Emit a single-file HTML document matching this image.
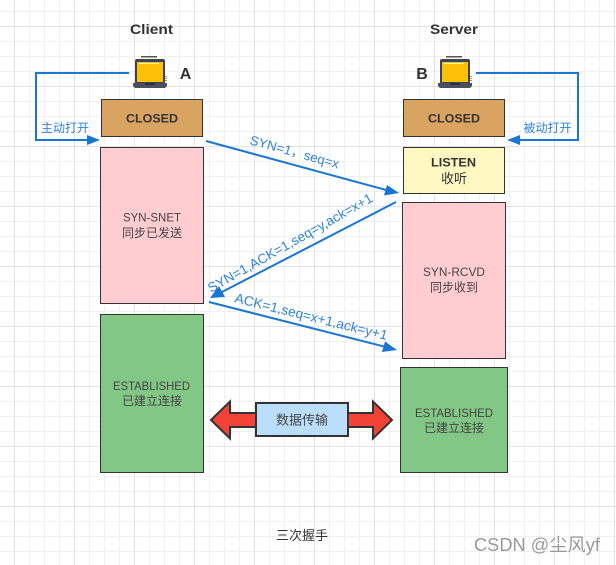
<!DOCTYPE html>
<html><head><meta charset="utf-8"><style>
html,body{margin:0;padding:0;background:#fff}
svg{display:block}
text{font-family:"Liberation Sans","Noto Sans CJK SC",sans-serif}
.d{fill:#333}
.b{fill:#1976d2;fill-opacity:.9}
</style></head><body>
<svg width="616" height="565" viewBox="0 0 616 565" xmlns="http://www.w3.org/2000/svg">
<defs>
<pattern id="g" width="60" height="60" patternUnits="userSpaceOnUse" x="14" y="26">
<path d="M15 0V60M30 0V60M45 0V60M0 15H60M0 30H60M0 45H60" stroke="#f0f0f0" stroke-width="1" fill="none" transform="translate(.5 .5)"/>
<path d="M0 0V60M0 0H60" stroke="#e2e2e2" stroke-width="1" fill="none" transform="translate(.5 .5)"/>
</pattern>
<g id="lap">
<rect x="8" y="0" width="16" height="1.500" fill="#555"/>
<rect x="2" y="3" width="30" height="25" rx="2" fill="#3f4452"/>
<rect x="4" y="6" width="26" height="20" fill="#ffc107"/>
<rect x="6" y="7" width="20" height="1" fill="#fff3c0"/>
<path d="M0 27H34V30L32 32H2L0 30Z" fill="#4a4f5e"/>
<rect x="12" y="27" width="10" height="2" fill="#2c2f38"/>
<path d="M33 20V25" stroke="#333" stroke-width="1" stroke-dasharray="1 1"/>
</g>
</defs>
<rect width="616" height="565" fill="#fff"/>
<rect width="616" height="565" fill="url(#g)"/>

<text x="130" y="34" textLength="43" lengthAdjust="spacingAndGlyphs" font-size="14" font-weight="bold" class="d">Client</text>
<text x="430" y="34" textLength="48" lengthAdjust="spacingAndGlyphs" font-size="14" font-weight="bold" class="d">Server</text>
<text x="185.500" y="79" text-anchor="middle" font-size="16" font-weight="bold" class="d">A</text>
<text x="422" y="79" text-anchor="middle" font-size="16" font-weight="bold" class="d">B</text>
<use href="#lap" x="133" y="56"/>
<use href="#lap" x="438" y="56"/>

<g stroke="#333" stroke-width="1">
<rect x="101.500" y="99.500" width="101" height="37" fill="#d9a362"/>
<rect x="403.500" y="99.500" width="101" height="37" fill="#d9a362"/>
<rect x="100.500" y="147.500" width="103" height="156" fill="#ffccd2"/>
<rect x="403.500" y="147.500" width="101" height="46" fill="#fff8c2"/>
<rect x="402.500" y="202.500" width="103" height="156" fill="#ffccd2"/>
<rect x="100.500" y="314.500" width="103" height="158" fill="#82c785"/>
<rect x="400.500" y="367.500" width="107" height="105" fill="#82c785"/>
</g>

<g font-size="12" font-weight="bold" class="d">
<text x="126" y="122.500" textLength="52" lengthAdjust="spacingAndGlyphs">CLOSED</text>
<text x="428" y="122.500" textLength="52" lengthAdjust="spacingAndGlyphs">CLOSED</text>
<text x="431" y="166.500" textLength="45" lengthAdjust="spacingAndGlyphs">LISTEN</text>
<text x="441" y="183" font-size="13" font-weight="normal">收听</text>
</g>
<g font-size="12" fill="#444">
<text x="123" y="221.500" textLength="58" lengthAdjust="spacingAndGlyphs">SYN-SNET</text>
<text x="152" y="237" text-anchor="middle">同步已发送</text>
<text x="423" y="276" textLength="62" lengthAdjust="spacingAndGlyphs">SYN-RCVD</text>
<text x="454" y="291.500" text-anchor="middle">同步收到</text>
<text x="113" y="390" textLength="77" lengthAdjust="spacingAndGlyphs">ESTABLISHED</text>
<text x="152" y="405" text-anchor="middle">已建立连接</text>
<text x="415" y="417" textLength="78" lengthAdjust="spacingAndGlyphs">ESTABLISHED</text>
<text x="454" y="432" text-anchor="middle">已建立连接</text>
</g>

<g fill="none" stroke="#1976d2" stroke-width="2">
<path d="M129 73H36V140H90"/>
<path d="M476 73H578V140H518"/>
<path d="M206 141L388 190.500"/>
<path d="M396 202L219 293.500"/>
<path d="M209 302L388 347.500"/>
</g>
<g fill="#1976d2">
<path d="M100 140L87 135V145Z"/>
<path d="M507 140L520 135V145Z"/>
<path d="M399 193L384 195.500L387 185Z"/>
<path d="M210 298L219 286L225 297Z"/>
<path d="M397 350L382 352L385 341.500Z"/>
</g>

<text x="65" y="132" text-anchor="middle" font-size="12" class="b">主动打开</text>
<text x="547.500" y="132" text-anchor="middle" font-size="12" class="b">被动打开</text>
<text transform="translate(249 144) rotate(15.500)" font-size="13" textLength="92" lengthAdjust="spacingAndGlyphs" class="b">SYN=1，seq=x</text>
<text transform="translate(211 293) rotate(-29.500)" font-size="13.500" textLength="187" lengthAdjust="spacingAndGlyphs" class="b">SYN=1,ACK=1,seq=y,ack=x+1</text>
<text transform="translate(234 302) rotate(14)" font-size="13.500" textLength="157" lengthAdjust="spacingAndGlyphs" class="b">ACK=1,seq=x+1,ack=y+1</text>

<path d="M211 420L230 401.500V413H373V401.500L392 420L373 438.500V427H230V438.500Z" fill="#f44336" stroke="#333" stroke-width="2"/>
<rect x="256" y="403" width="92" height="33" fill="#bbdefb" stroke="#333" stroke-width="2"/>
<text x="302" y="424.500" text-anchor="middle" font-size="13" fill="#444">数据传输</text>

<text x="302" y="540" text-anchor="middle" font-size="13" fill="#333">三次握手</text>
<text x="474" y="551" textLength="126" lengthAdjust="spacingAndGlyphs" font-size="18" fill="#999">CSDN @尘风yf</text>
</svg>
</body></html>
